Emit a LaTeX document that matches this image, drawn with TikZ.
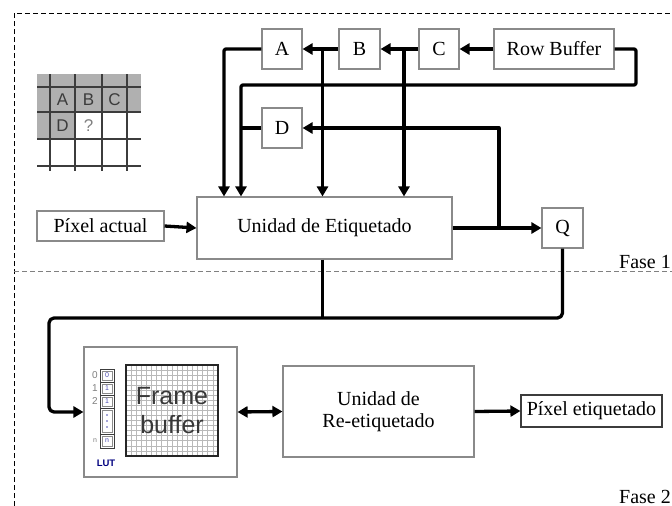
\documentclass[tikz,border=0pt]{standalone}
\usepackage{fontspec}
\setmainfont{Liberation Serif}
\newfontfamily\sansf{Liberation Sans}
\usetikzlibrary{arrows.meta}
\definecolor{boxgray}{HTML}{8A8A8A}
\definecolor{gridgray}{HTML}{3C3C3C}
\definecolor{cellgray}{HTML}{B0B0B0}
\tikzset{
  box/.style={draw=boxgray, line width=1.1pt, fill=white, inner sep=0pt, font=\fontsize{20}{23}\selectfont},
  wire/.style={line width=3.3pt, line join=round},
  >={Triangle[length=10pt,width=11pt]},
  frame/.style={line width=1pt, dash pattern=on 5pt off 3pt},
}
\begin{document}
\begin{tikzpicture}[x=1pt,y=-1pt]
\useasboundingbox (0,0) rectangle (672,506);
% frames
\draw[frame] (14,506) -- (14,13) -- (672,13);
\draw[frame, draw=gray] (14,271) -- (672,271);
\node[anchor=base east, font=\fontsize{20}{23}\selectfont, inner sep=0pt] (f1) at (671,268) {Fase 1};
\node[anchor=base east, font=\fontsize{20}{23}\selectfont, inner sep=0pt] (f2) at (671,503) {Fase 2};

% pixel neighbourhood grid
\fill[cellgray] (37,74) rectangle (141,112);
\fill[cellgray] (37,112) rectangle (75,139);
\foreach \yy in {87,112,139,166} \draw[gridgray, line width=2.2pt] (37,\yy) -- (141,\yy);
\foreach \xx in {50,75,102,127} \draw[gridgray, line width=2.2pt] (\xx,74) -- (\xx,171);
\begin{scope}[every node/.style={font=\sansf\fontsize{17}{19}\selectfont, text=gridgray}]
\node (ga) at (62.5,100) {A};
\node (gb) at (88.5,100) {B};
\node (gc) at (114.5,100) {C};
\node (gd) at (62.5,125.5) {D};
\node[text=gray] (gq) at (88.5,125.5) {?};
\end{scope}

% nodes phase 1
\node[box, minimum width=40pt, minimum height=40pt] (A) at (282,49) {A};
\node[box, minimum width=41pt, minimum height=40pt] (B) at (359.5,49) {B};
\node[box, minimum width=40pt, minimum height=40pt] (C) at (439,49) {C};
\node[box, minimum width=120pt, minimum height=40pt] (RB) at (554,49) {Row Buffer};
\node[box, minimum width=40pt, minimum height=40pt] (D) at (282,128) {D};
\node[box, minimum width=255pt, minimum height=62pt] (UE) at (324.5,228) {Unidad de Etiquetado};
\node[box, minimum width=127pt, minimum height=30pt] (PA) at (100.5,226) {Píxel actual};
\node[box, minimum width=41pt, minimum height=40pt] (Q) at (562.5,228) {Q};

% nodes phase 2
\node[box, minimum width=153pt, minimum height=130pt] (FB) at (160.5,412) {};
\node[box, minimum width=191pt, minimum height=91pt, align=center] (RE) at (378.5,411.5) {Unidad de\\[-1pt]Re-etiquetado};
\node[box, draw=gridgray, minimum width=141pt, minimum height=32pt] (PE) at (591.5,411) {Píxel etiquetado};

% frame buffer picture
\foreach \k in {1,...,17} {
  \draw[gray!55, line width=0.6pt] ({126+\k*5.11},365) -- ({126+\k*5.11},456);
  \draw[gray!55, line width=0.6pt] (126,{365+\k*5.05}) -- (218,{365+\k*5.05});
}
\draw[black!85, line width=1.5pt] (126,365) rectangle (218,456);
\node[font=\sansf\fontsize{25}{29}\selectfont, text=black!78, align=center] (fbt) at (172,411) {Frame\\buffer};
% LUT
\draw[gridgray, line width=1pt] (100,369) rectangle (114,448);
\foreach \yy in {382,395,408,434} \draw[gridgray, line width=0.8pt] (100,\yy) -- (114,\yy);
\draw[gridgray!60, line width=0.6pt] (102,371) rectangle (112,380);
\draw[gridgray!60, line width=0.6pt] (102,384) rectangle (112,393);
\draw[gridgray!60, line width=0.6pt] (102,397) rectangle (112,406);
\draw[gridgray!60, line width=0.6pt] (102,410) rectangle (112,432);
\draw[gridgray!60, line width=0.6pt] (102,436) rectangle (112,446);
\foreach \yy in {415,421,427} \fill[blue!40!gray] (107,\yy) circle (0.9pt);
\begin{scope}[every node/.style={font=\sansf\fontsize{7}{8}\selectfont, inner sep=0pt}]
\node[text=blue!40!gray] (l0) at (107,375.5) {0};
\node[text=blue!40!gray] (l1) at (107,388.5) {1};
\node[text=blue!40!gray] (l2) at (107,401.5) {1};
\node[text=blue!40!gray] (l4) at (107,441) {n};
\node[text=gray, font=\sansf\fontsize{10}{11}\selectfont] (i0) at (95,375.5) {0};
\node[text=gray, font=\sansf\fontsize{10}{11}\selectfont] (i1) at (95,388.5) {1};
\node[text=gray, font=\sansf\fontsize{10}{11}\selectfont] (i2) at (95,401.5) {2};
\node[text=gray] (i4) at (95,441) {n};
\end{scope}
\node[font=\sansf\bfseries\fontsize{9.5}{10}\selectfont, text=blue!50!black, inner sep=0pt] (lut) at (106,463) {LUT};

% junction coordinates
\coordinate (rbR) at (636,49);
\coordinate (rbD) at (636,85);
\coordinate (busL) at (241,85);
\coordinate (aL) at (224,49);
\coordinate (bx) at (322.5,49);
\coordinate (cx) at (404,49);
\coordinate (fbk) at (499,228);
\coordinate (fbkU) at (499,128);
\coordinate (dL) at (241,128);
\coordinate (qD) at (562.5,318);
\coordinate (ueD) at (322.5,318);
\coordinate (leftD) at (49,318);
\coordinate (leftB) at (49,412);

% connectors
\draw[wire,->] (RB.west) -- (C.east);
\draw[wire,->] (C.west) -- (B.east);
\draw[wire,->] (B.west) -- (A.east);
\draw[wire,->,rounded corners=2pt] (RB.east) -- (rbR) -- (rbD) -- (busL) -- (busL |- UE.north);
\draw[wire,->] (cx) -- (cx |- UE.north);
\draw[wire,->] (bx) -- (bx |- UE.north);
\draw[wire,->,rounded corners=2pt] (A.west) -- (aL) -- (aL |- UE.north);
\draw[wire] (D.west) -- (dL);
\draw[wire,->] (PA.east) -- (UE.west);
\draw[wire,->] (UE.east) -- (Q.west);
\draw[wire,->] (fbk) -- (fbkU) -- (D.east);
\draw[wire] (UE.south -| ueD) -- (ueD);
\draw[wire,->,rounded corners=5pt] (Q.south) -- (qD) -- (leftD) -- (leftB) -- (FB.west);
\draw[wire,<->] (FB.east) -- (RE.west);
\draw[wire,->] (RE.east) -- (PE.west);
\end{tikzpicture}
\end{document}
